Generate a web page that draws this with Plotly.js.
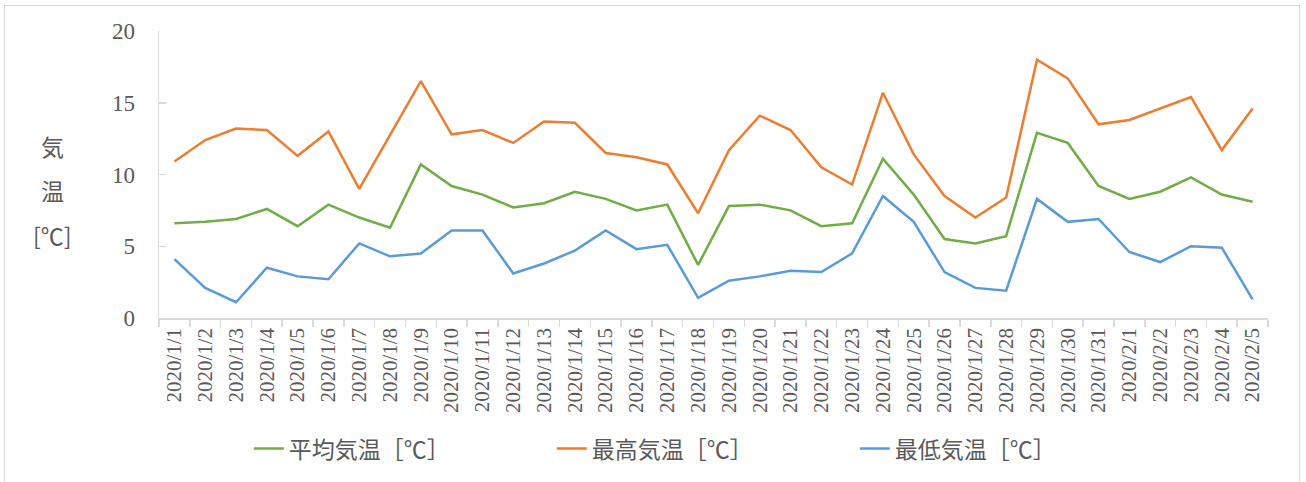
<!DOCTYPE html>
<html>
<head>
<meta charset="utf-8">
<script src="https://cdn.plot.ly/plotly-3.0.1.min.js"></script>
<style>
  html, body { margin: 0; padding: 0; background: #fff; }
  #wrap { position: relative; width: 1306px; height: 482px; overflow: hidden; }
  #chart { position: absolute; left: 0; top: 0; width: 1306px; height: 482px; }
  #frame { position: absolute; left: 4px; top: 5px; width: 1296px; height: 490px;
           border: 1.5px solid #d9d9d9; pointer-events: none; box-sizing: border-box; }
</style>
</head>
<body>
<div id="wrap">
  <div id="chart"></div>
  <div id="frame"></div>
</div>
<script>
// ---- data ----
const dates = [
  "2020/1/1","2020/1/2","2020/1/3","2020/1/4","2020/1/5","2020/1/6","2020/1/7","2020/1/8","2020/1/9",
  "2020/1/10","2020/1/11","2020/1/12","2020/1/13","2020/1/14","2020/1/15","2020/1/16","2020/1/17",
  "2020/1/18","2020/1/19","2020/1/20","2020/1/21","2020/1/22","2020/1/23","2020/1/24","2020/1/25",
  "2020/1/26","2020/1/27","2020/1/28","2020/1/29","2020/1/30","2020/1/31",
  "2020/2/1","2020/2/2","2020/2/3","2020/2/4","2020/2/5"
];
const avgTemp = [6.6, 6.7, 6.9, 7.6, 6.4, 7.9, 7.0, 6.3, 10.7, 9.2, 8.6, 7.7, 8.0, 8.8, 8.3, 7.5, 7.9,
                 3.7, 7.8, 7.9, 7.5, 6.4, 6.6, 11.1, 8.6, 5.5, 5.2, 5.7, 12.9, 12.2, 9.2,
                 8.3, 8.8, 9.8, 8.6, 8.1];
const maxTemp = [10.9, 12.4, 13.2, 13.1, 11.3, 13.0, 9.0, 12.8, 16.5, 12.8, 13.1, 12.2, 13.7, 13.6, 11.5, 11.2, 10.7,
                 7.3, 11.7, 14.1, 13.1, 10.5, 9.3, 15.7, 11.4, 8.5, 7.0, 8.4, 18.0, 16.7, 13.5,
                 13.8, 14.6, 15.4, 11.7, 14.6];
const minTemp = [4.1, 2.1, 1.1, 3.5, 2.9, 2.7, 5.2, 4.3, 4.5, 6.1, 6.1, 3.1, 3.8, 4.7, 6.1, 4.8, 5.1,
                 1.4, 2.6, 2.9, 3.3, 3.2, 4.5, 8.5, 6.7, 3.2, 2.1, 1.9, 8.3, 6.7, 6.9,
                 4.6, 3.9, 5.0, 4.9, 1.3];
const seriesNames = ["平均気温［℃］", "最高気温［℃］", "最低気温［℃］"];
const yTitleLines = ["気", "温", "[℃]"];
const yTicks = [0, 5, 10, 15, 20];

// ---- chart ----
const colors = ["#70AD47", "#ED7D31", "#5B9BD5"];
const values = [avgTemp, maxTemp, minTemp];
const traces = values.map((v, i) => ({
  type: "scatter",
  mode: "lines",
  x: dates,
  y: v,
  name: seriesNames[i],
  line: { color: colors[i], width: 2.5 }
}));

const grey = "#595959";
const axisColor = "#d9d9d9";
const yTitlePos = [0.600, 0.445, 0.290];

const layout = {
  width: 1306,
  height: 482,
  margin: { l: 159, r: 38, t: 31, b: 161 },
  paper_bgcolor: "#ffffff",
  plot_bgcolor: "#ffffff",
  showlegend: true,
  xaxis: {
    type: "category",
    range: [-0.5, dates.length - 0.5],
    tickson: "boundaries",
    ticks: "outside",
    ticklen: 7,
    tickwidth: 1.5,
    tickcolor: axisColor,
    showline: true,
    linecolor: axisColor,
    linewidth: 1.5,
    showgrid: false,
    zeroline: false,
    tickangle: -90,
    tickfont: { family: "Liberation Serif, serif", size: 21, color: grey },
    fixedrange: true
  },
  yaxis: {
    range: [0, 20],
    tickmode: "array",
    tickvals: yTicks,
    ticktext: yTicks.map(String),
    ticks: "inside",
    ticklen: 7,
    tickwidth: 1.5,
    tickcolor: axisColor,
    showline: true,
    linecolor: axisColor,
    linewidth: 1.5,
    showgrid: false,
    zeroline: false,
    ticklabelstandoff: 18,
    tickfont: { family: "Liberation Serif, serif", size: 23, color: grey },
    fixedrange: true
  },
  legend: {
    orientation: "h",
    x: 0.081,
    xanchor: "left",
    y: -0.455,
    yanchor: "middle",
    entrywidth: 258,
    entrywidthmode: "pixels",
    font: { family: "Noto Sans CJK JP, sans-serif", size: 23, color: grey },
    bgcolor: "rgba(0,0,0,0)"
  },
  annotations: yTitleLines.map((t, i) => ({
    text: t,
    xref: "paper",
    yref: "paper",
    x: 0,
    xshift: -107,
    y: yTitlePos[i],
    xanchor: "center",
    yanchor: "middle",
    showarrow: false,
    font: { family: "Noto Sans CJK JP, sans-serif", size: 23, color: grey }
  }))
};

Plotly.newPlot("chart", traces, layout, { displayModeBar: false, staticPlot: true });
</script>
</body>
</html>
